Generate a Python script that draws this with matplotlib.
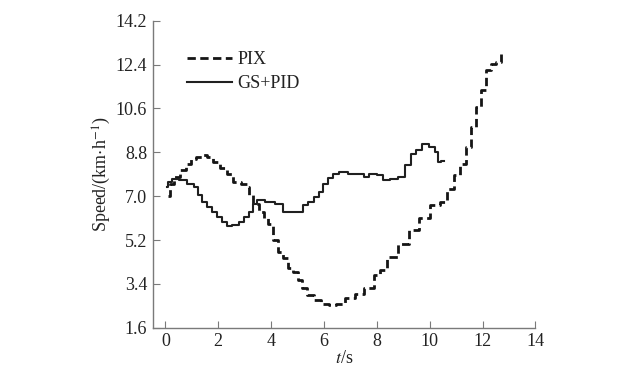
"""
Speed over time, PIX vs GS+PID controller
"""

import matplotlib.pyplot as plt

# PIX (dashed)
pix_t = [0.1, 0.23, 0.42, 0.67, 0.86, 1.05, 1.3, 1.49, 1.68, 1.94, 2.19, 2.44, 2.69,
         3.01, 3.14, 3.2, 3.45, 3.64, 3.83, 3.96, 4.15, 4.34, 4.53, 4.72, 4.91, 5.1,
         5.22, 5.48, 5.73, 6.05, 6.3, 6.62, 6.99, 7.37, 7.69, 8.07, 8.2, 8.58, 9.02,
         9.4, 9.78, 10.22, 10.54, 10.79, 11.04, 11.29, 11.48, 11.67, 11.86, 12.05,
         12.24, 12.43, 12.62, 12.75]
pix_v = [7.0, 7.52, 7.8, 8.07, 8.34, 8.51, 8.59, 8.68, 8.59, 8.41, 8.14, 7.93, 7.59,
         7.52, 7.39, 7.04, 6.7, 6.36, 6.09, 5.88, 5.2, 4.72, 4.45, 4.04, 3.9, 3.56,
         3.22, 2.94, 2.74, 2.6, 2.53, 2.6, 2.81, 3.01, 3.22, 3.76, 3.97, 4.52, 5.06,
         5.61, 6.09, 6.63, 6.77, 7.3, 7.86, 8.34, 9.03, 9.85, 10.67, 11.35,
         12.17, 12.44, 12.51, 12.96]

# GS+PID (solid)
gs_t = [0.05, 0.15, 0.35, 0.67, 0.99, 1.18, 1.3, 1.49, 1.68, 1.87, 2.06, 2.25, 2.38,
        2.69, 2.88, 3.07, 3.26, 3.39, 3.58, 3.96, 4.34, 4.59, 5.1, 5.29, 5.54, 5.73,
        5.86, 6.05, 6.24, 6.43, 6.74, 7.06, 7.44, 7.56, 7.88, 8.13, 8.32, 8.64, 8.96,
        9.15, 9.4, 9.59, 9.84, 10.1, 10.28, 10.35, 10.54]
gs_v = [7.39, 7.59, 7.69, 7.66, 7.52, 7.39, 7.04, 6.77, 6.57, 6.36, 6.16, 5.95, 5.77,
        5.81, 5.95, 6.13, 6.36, 6.7, 6.84, 6.77, 6.68, 6.36, 6.36, 6.63, 6.77, 6.97,
        7.18, 7.52, 7.73, 7.91, 8.0, 7.93, 7.91, 7.8, 7.89, 7.86, 7.66, 7.7, 7.8,
        8.27, 8.75, 8.89, 9.14, 9.03, 8.82, 8.41, 8.45]

x_ticks = [0, 2, 4, 6, 8, 10, 12, 14]
y_ticks = [1.6, 3.4, 5.2, 7.0, 8.8, 10.6, 12.4, 14.2]

plt.rcParams["font.family"] = ["Liberation Serif", "DejaVu Serif"]
plt.rcParams["mathtext.fontset"] = "stix"

fig = plt.figure(figsize=(6.24, 3.68), dpi=100)
ax = fig.add_axes([0.2447, 0.109, 0.6133, 0.835])

ax.plot(pix_t, pix_v, color="#151515", lw=2.0, ls=(0, (3, 1.6)),
        drawstyle="steps-mid", label="PIX")
ax.plot(gs_t, gs_v, color="#202020", lw=1.5, drawstyle="steps-mid",
        label="GS+PID")

ax.set_xlim(-0.48, 14)
ax.set_ylim(1.6, 14.2)
ax.set_xticks(x_ticks)
ax.set_yticks(y_ticks)
ax.set_yticklabels([f"{v:.1f}" for v in y_ticks])

for side in ["top", "right"]:
    ax.spines[side].set_visible(False)
for side in ["left", "bottom"]:
    ax.spines[side].set_color("#7a7a7a")
    ax.spines[side].set_linewidth(1.0)
ax.tick_params(direction="in", length=5, color="#7a7a7a", labelsize=13,
               labelcolor="#222222", pad=4)

ax.set_ylabel("Speed/(km$\\cdot$h$^{-1}$)", fontsize=13, color="#222222",
              labelpad=2)
ax.set_xlabel("$\\it{t}$/s", fontsize=13, color="#222222", labelpad=0)

leg = ax.legend(loc="upper left", bbox_to_anchor=(0.071, 0.924), frameon=False,
                fontsize=13, handlelength=2.5, handletextpad=0.3,
                labelspacing=0.4, borderaxespad=0)
for t in leg.get_texts():
    t.set_color("#222222")

fig.savefig("out.png", dpi=100, facecolor="white")
